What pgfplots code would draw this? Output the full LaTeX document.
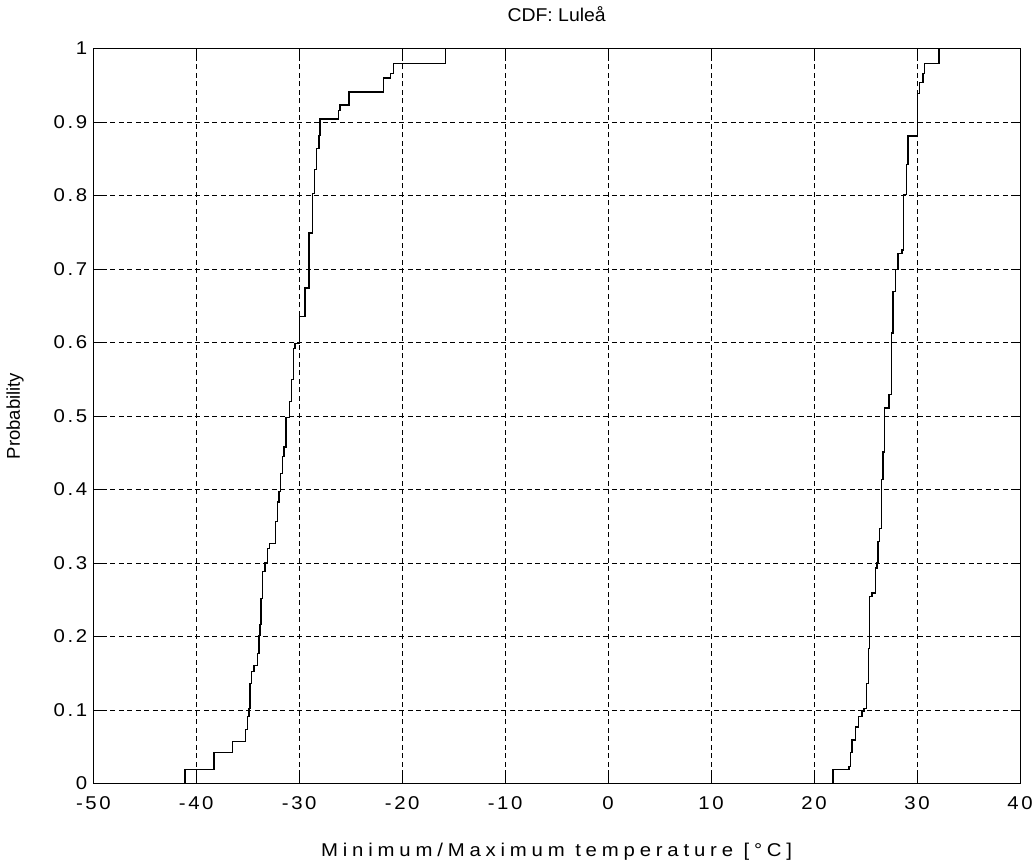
\documentclass[border=0pt]{standalone}
\usepackage{pgfplots}
\pgfplotsset{compat=1.18}
\usepackage{pgfplotstable}
\usepackage{fontspec}
\setmainfont{Liberation Sans}
\newfontfamily\tickfont{Liberation Sans}[FakeStretch=1.1,LetterSpace=14]
\newfontfamily\xlabfont{Liberation Sans}[FakeStretch=1.1,LetterSpace=26]
\newfontfamily\titlefont{Liberation Sans}[FakeStretch=1.05]

\pgfplotstableread{
x p
-41.10 0
-41.10 0.019
-38.28 0.042
-36.50 0.057
-35.20 0.073
-35.01 0.091
-34.88 0.102
-34.79 0.136
-34.62 0.152
-34.40 0.161
-34.08 0.177
-33.91 0.201
-33.82 0.216
-33.72 0.252
-33.59 0.288
-33.33 0.300
-33.11 0.320
-32.91 0.327
-32.29 0.356
-32.14 0.383
-31.97 0.397
-31.81 0.422
-31.65 0.445
-31.49 0.458
-31.29 0.498
-30.97 0.520
-30.74 0.550
-30.58 0.592
-30.42 0.599
-30.00 0.635
-29.45 0.674
-29.06 0.749
-28.70 0.803
-28.54 0.835
-28.31 0.864
-28.09 0.882
-27.99 0.904
-26.21 0.916
-26.05 0.923
-25.17 0.941
-21.84 0.960
-21.13 0.966
-20.87 0.980
-15.79 1.000
}\mindata

\pgfplotstableread{
x p
21.84 0
21.84 0.019
23.40 0.023
23.56 0.042
23.69 0.059
24.02 0.077
24.34 0.091
24.66 0.098
24.85 0.102
25.09 0.136
25.28 0.184
25.41 0.254
25.63 0.259
25.96 0.293
26.12 0.300
26.21 0.329
26.38 0.347
26.54 0.414
26.70 0.451
26.86 0.511
27.28 0.529
27.51 0.613
27.67 0.669
27.90 0.699
28.16 0.721
28.54 0.726
28.71 0.801
28.97 0.842
29.13 0.881
30.04 0.939
30.26 0.954
30.58 0.966
30.75 0.980
32.14 1.000
}\maxdata

\begin{document}
\begin{tikzpicture}
\path[use as bounding box] (-93.3pt,-81.5pt) rectangle (939.7pt,783.5pt);
\begin{axis}[
  at={(0,0)}, anchor=south west,
  scale only axis,
  width=926.7pt, height=735pt,
  xmin=-50, xmax=40, ymin=0, ymax=1,
  xtick={-50,-40,-30,-20,-10,0,10,20,30,40},
  xticklabels={-50,-40,-30,-20,-10,0,10,20,30,40},
  ytick={0,0.1,0.2,0.3,0.4,0.5,0.6,0.7,0.8,0.9,1},
  yticklabels={0,0.1,0.2,0.3,0.4,0.5,0.6,0.7,0.8,0.9,1},
  tick align=inside,
  major tick length=9pt,
  tick style={black, line width=0.9pt},
  axis line style={black, line width=1pt},
  grid=major,
  major grid style={black, line width=0.9pt, dash pattern=on 5pt off 3.5pt},
  xticklabel style={font=\tickfont\fontsize{18.5}{22}\selectfont, anchor=north, inner sep=0pt, yshift=-13pt},
  yticklabel style={font=\tickfont\fontsize{18.5}{22}\selectfont, anchor=east, inner sep=0pt, xshift=-6pt},
  title={CDF: Luleå},
  title style={font=\titlefont\fontsize{18.5}{22}\selectfont, at={(axis description cs:0.5,1)}, anchor=base, yshift=21pt},
  xlabel={Minimum/Maximum temperature [°C]},
  xlabel style={font=\xlabfont\fontsize{18.5}{22}\selectfont, at={(axis description cs:0.5,0)}, anchor=base, yshift=-73pt},
  ylabel={Probability},
  ylabel style={font=\fontsize{18.5}{22}\selectfont, at={(axis description cs:-0.0845,0.5)}, anchor=center, rotate=0},
]
\addplot[const plot, black, line width=1.3pt, mark=none] table[x=x,y=p] {\mindata};
\addplot[const plot, black, line width=1.3pt, mark=none] table[x=x,y=p] {\maxdata};
\end{axis}
\end{tikzpicture}
\end{document}
